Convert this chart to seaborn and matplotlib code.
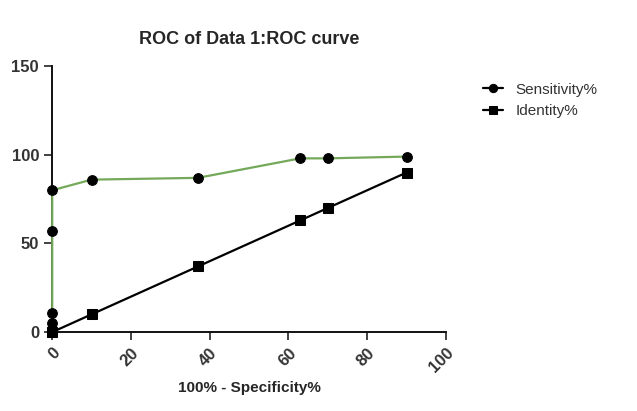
import numpy as np
import pandas as pd
import seaborn as sns
import matplotlib.pyplot as plt

# values
sens_x = [0, 0, 0, 0, 0, 0, 10, 37, 63, 70, 90]
sens_y = [0, 2, 5, 11, 57, 80, 86, 87, 98, 98, 99]
ident_x = [0, 10, 37, 63, 70, 90]
ident_y = [0, 10, 37, 63, 70, 90]

x_ticks = [0, 20, 40, 60, 80, 100]
y_ticks = [0, 50, 100, 150]

sens_df = pd.DataFrame({'x': sens_x, 'y': sens_y, 'series': 'Sensitivity%'})
ident_df = pd.DataFrame({'x': ident_x, 'y': ident_y, 'series': 'Identity%'})
df = pd.concat([sens_df, ident_df], ignore_index=True)

sns.set_style('ticks')
plt.rcParams['font.family'] = ['Liberation Sans', 'DejaVu Sans']

fig = plt.figure(figsize=(6.37, 4.11), dpi=100)
ax = fig.add_axes([0.082, 0.192, 0.618, 0.647])

sns.lineplot(data=df, x='x', y='y', hue='series', style='series',
             palette={'Sensitivity%': '#74a95a', 'Identity%': 'black'},
             markers={'Sensitivity%': 'o', 'Identity%': 's'},
             dashes=False, sort=False, estimator=None, linewidth=1.6,
             markersize=7, markerfacecolor='black', markeredgecolor='black',
             ax=ax, clip_on=False, zorder=3)

ax.set_xlim(0, 100)
ax.set_ylim(0, 150)
ax.set_xticks(x_ticks)
ax.set_yticks(y_ticks)
ax.tick_params(axis='both', labelsize=12, length=6, width=1.2, colors='#222222')
for lbl in ax.get_xticklabels():
    lbl.set_rotation(45)
    lbl.set_ha('right')
    lbl.set_va('top')
    lbl.set_rotation_mode('anchor')
for lbl in ax.get_xticklabels() + ax.get_yticklabels():
    lbl.set_fontweight('bold')
    lbl.set_color('#333333')
sns.despine(ax=ax)
for s in ['left', 'bottom']:
    ax.spines[s].set_linewidth(1.4)
    ax.spines[s].set_color('#111111')

ax.set_title('ROC of Data 1:ROC curve', fontsize=13, fontweight='bold', pad=16)
ax.set_xlabel('100% - Specificity%', fontsize=11, fontweight='bold', labelpad=4)
ax.set_ylabel('')

handles, labels = ax.get_legend_handles_labels()
for h in handles:
    h.set_color('black')
    h.set_markerfacecolor('black')
leg = ax.legend(handles, labels, loc='upper left', bbox_to_anchor=(1.06, 0.99),
                frameon=False, fontsize=11, handlelength=1.3, handletextpad=0.8,
                markerscale=0.85, labelspacing=0.5)
for t in leg.get_texts():
    t.set_color('#333333')

fig.savefig('out.png', dpi=100)
